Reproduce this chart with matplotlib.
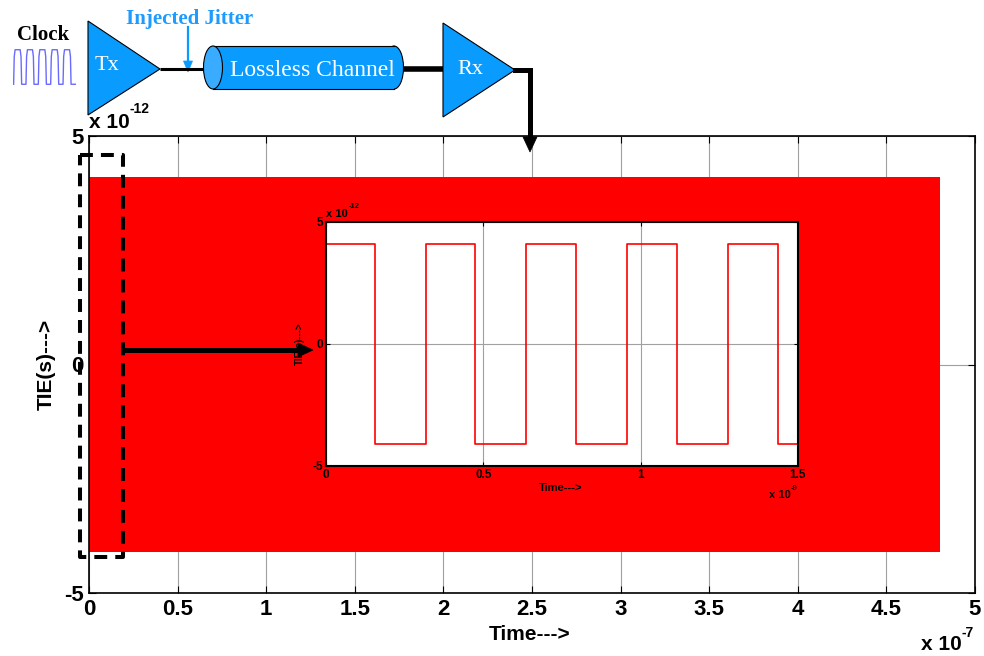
import numpy as np
import matplotlib.pyplot as plt
from matplotlib.patches import Polygon, Ellipse, Rectangle
from matplotlib.ticker import FuncFormatter

plt.rcParams['font.family'] = ['Liberation Sans Narrow', 'Liberation Sans', 'DejaVu Sans']
plt.rcParams['font.weight'] = 'bold'

# full TIE record: square jitter too dense to resolve -> drawn as its envelope
tie_span = [0.0, 4.8e-7]
tie_high = [4.1e-12, 4.1e-12]
tie_low = [-4.1e-12, -4.1e-12]

# zoomed view (first 1.5 ns), transition times
zoom_edges = [0.156e-9, 0.317e-9, 0.475e-9, 0.637e-9, 0.796e-9,
              0.957e-9, 1.117e-9, 1.278e-9, 1.436e-9]
zoom_level = 4.1e-12
zoom_end = 1.5e-9

main_xticks = [0, 0.5e-7, 1e-7, 1.5e-7, 2e-7, 2.5e-7, 3e-7, 3.5e-7, 4e-7, 4.5e-7, 5e-7]
main_yticks = [-5e-12, 0, 5e-12]
zoom_xticks = [0, 0.5e-9, 1e-9, 1.5e-9]
zoom_yticks = [-5e-12, 0, 5e-12]

# clock icon
clock_rise = [0.0, 1.0, 2.0, 3.0, 4.0]
clock_fall = [0.65, 1.65, 2.65, 3.65, 4.65]

BLUE = '#0a9bff'
SERIF = ['Liberation Serif', 'DejaVu Serif']

fig = plt.figure(figsize=(9.84, 6.56), dpi=100)

# ---- main axes
ax = fig.add_axes([89/984, 1-593/656, 886/984, 457/656])
ax.fill_between(tie_span, tie_low, tie_high, color='red', lw=0)
ax.set_xlim(0, 5e-7)
ax.set_ylim(-5e-12, 5e-12)
ax.set_xticks(main_xticks)
ax.set_yticks(main_yticks)
ax.xaxis.set_major_formatter(FuncFormatter(lambda v, p: '%g' % (v/1e-7)))
ax.yaxis.set_major_formatter(FuncFormatter(lambda v, p: '%g' % (v/1e-12)))
ax.set_axisbelow(True)
ax.grid(True, color='#a0a0a0', lw=0.8)
ax.tick_params(direction='in', length=5, top=True, right=True, labelsize=16, pad=4)
for s in ax.spines.values():
    s.set_linewidth(1.2)
ax.set_xlabel('Time--->', fontsize=15, fontweight='bold')
ax.xaxis.set_label_coords(0.497, -0.07)
ax.set_ylabel('TIE(s)--->', fontsize=15, fontweight='bold')
ax.yaxis.set_label_coords(-0.037, 0.5)

# ---- inset
ax2 = fig.add_axes([326/984, 1-466/656, 472/984, 244/656])
xs = [0.0]
ys = [zoom_level]
lev = zoom_level
for e in zoom_edges:
    xs += [e, e]
    ys += [lev, -lev]
    lev = -lev
xs.append(zoom_end)
ys.append(lev)
ax2.plot(xs, ys, color='red', lw=1.2)
ax2.set_xlim(0, 1.5e-9)
ax2.set_ylim(-5e-12, 5e-12)
ax2.set_xticks(zoom_xticks)
ax2.set_yticks(zoom_yticks)
ax2.xaxis.set_major_formatter(FuncFormatter(lambda v, p: '%g' % (v/1e-9)))
ax2.yaxis.set_major_formatter(FuncFormatter(lambda v, p: '%g' % (v/1e-12)))
ax2.set_axisbelow(True)
ax2.grid(True, color='#a0a0a0', lw=0.8)
ax2.tick_params(direction='in', length=3, top=True, right=True, labelsize=8.5, pad=2)
for s in ax2.spines.values():
    s.set_linewidth(1.5)
ax2.set_xlabel('Time--->', fontsize=8, fontweight='bold')
ax2.xaxis.set_label_coords(0.498, -0.07)
ax2.set_ylabel('TIE(s)--->', fontsize=7, fontweight='bold')
ax2.yaxis.set_label_coords(-0.045, 0.5)

# ---- clock icon
axc = fig.add_axes([13/984, 1-86/656, 63/984, 38/656])
ct, cv = [], []
for r, f in zip(clock_rise, clock_fall):
    ct += [r, r + 0.05, r + 0.12, f - 0.12, f - 0.05, f, f + 0.35]
    cv += [0, 0.8, 1, 1, 0.8, 0, 0]
axc.plot(ct, cv, color='#6a6aff', lw=1)
axc.set_xlim(-0.05, 5.05)
axc.set_ylim(-0.05, 1.05)
axc.axis('off')

# ---- overlay for block diagram and annotations (pixel coordinates)
ov = fig.add_axes([0, 0, 1, 1], zorder=10)
ov.set_xlim(0, 984)
ov.set_ylim(656, 0)
ov.axis('off')
ov.patch.set_alpha(0)

ov.add_patch(Polygon([(88, 21), (88, 115), (160, 69)], fc=BLUE, ec='k', lw=0.8))
ov.add_patch(Polygon([(443, 23), (443, 117), (515, 70)], fc=BLUE, ec='k', lw=0.8))
ov.plot([160, 205], [69, 69], color='k', lw=2.2, solid_capstyle='butt')
ov.plot([400, 443], [69, 69], color='k', lw=4, solid_capstyle='butt')

# cylinder
ov.add_patch(Ellipse((394, 67.5), 19, 43, fc=BLUE, ec='k', lw=0.8, zorder=2))
ov.add_patch(Rectangle((213, 46), 181, 43, fc=BLUE, ec='none', zorder=3))
ov.plot([213, 394], [46, 46], color='k', lw=0.8, zorder=4)
ov.plot([213, 394], [89, 89], color='k', lw=0.8, zorder=4)
ov.add_patch(Ellipse((213, 67.5), 19, 43, fc='#3aacff', ec='k', lw=0.8, zorder=5))

# Rx output arrow
ov.plot([515, 530, 530], [70, 70, 140], color='k', lw=3.6, solid_joinstyle='miter')
ov.add_patch(Polygon([(523, 137), (537, 137), (530, 152)], fc='k', ec='k', lw=0.5))

# injected jitter arrow
ov.plot([188, 188], [27, 63], color=BLUE, lw=1.6)
ov.add_patch(Polygon([(183.5, 61), (192.5, 61), (188, 72)], fc=BLUE, ec=BLUE, lw=0.5))

ov.text(43, 35, 'Clock', family=SERIF, fontweight='bold', fontsize=15, ha='center', va='center')
ov.text(190, 19, 'Injected Jitter', family=SERIF, fontweight='bold', fontsize=15,
        color='#1e9bff', ha='center', va='center')
ov.text(107, 66, 'Tx', family=SERIF, fontweight='normal', fontsize=16, color='white',
        ha='center', va='center', zorder=6)
ov.text(312, 70, 'Lossless Channel', family=SERIF, fontweight='normal', fontsize=17,
        color='white', ha='center', va='center', zorder=6)
ov.text(470, 70, 'Rx', family=SERIF, fontweight='normal', fontsize=16, color='white',
        ha='center', va='center', zorder=6)

# dashed selection and arrow to inset
ov.plot([80, 123, 123, 80, 80], [155, 155, 557, 557, 155], color='k', lw=2.9,
        linestyle=(0, (3.2, 2)))
ov.plot([121, 300], [350, 350], color='k', lw=3.6, solid_capstyle='butt')
ov.add_patch(Polygon([(298, 343), (298, 357), (313, 350)], fc='k', ec='k', lw=0.5))

# exponent labels
ov.text(89, 122, 'x 10', fontsize=15, fontweight='bold', ha='left', va='center')
ov.text(129, 109, '-12', fontsize=10, fontweight='bold', ha='left', va='center')
ov.text(921, 645, 'x 10', fontsize=15, fontweight='bold', ha='left', va='center')
ov.text(962, 633, '-7', fontsize=10, fontweight='bold', ha='left', va='center')
ov.text(326, 214, 'x 10', fontsize=8, fontweight='bold', ha='left', va='center')
ov.text(349, 207, '-12', fontsize=5.5, fontweight='bold', ha='left', va='center')
ov.text(769, 495, 'x 10', fontsize=8, fontweight='bold', ha='left', va='center')
ov.text(791, 488, '-9', fontsize=5.5, fontweight='bold', ha='left', va='center')

fig.savefig('out.png', dpi=100)
